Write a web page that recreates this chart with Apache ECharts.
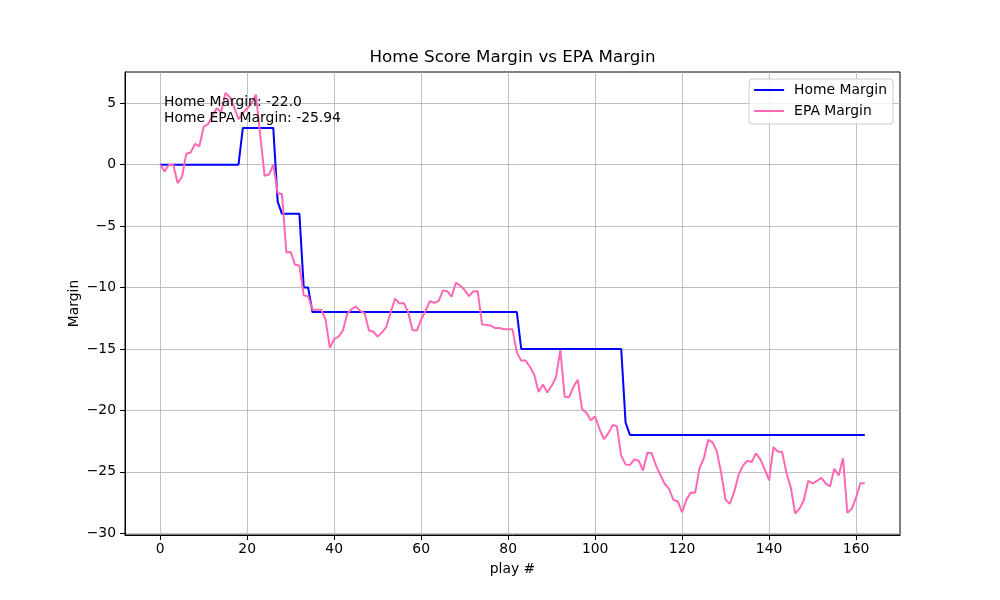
<!DOCTYPE html>
<html>
<head>
<meta charset="utf-8">
<title>Home Score Margin vs EPA Margin</title>
<script src="https://cdn.jsdelivr.net/npm/echarts@6/dist/echarts.min.js"></script>
<style>
  html, body { margin: 0; padding: 0; background: #fff; }
  #main { width: 1000px; height: 600px; }
</style>
</head>
<body>
<div id="main"></div>
<script>
// score margin of the home team after each play
const homeMargin = [
  0, 0, 0, 0, 0, 0, 0, 0, 0, 0, 0, 0, 0, 0, 0, 0, 0, 0, 0,
  3, 3, 3, 3, 3, 3, 3, 3,
  -3,
  -4, -4, -4, -4, -4,
  -10, -10,
  -12, -12, -12, -12, -12, -12, -12, -12, -12, -12, -12, -12, -12, -12, -12, -12,
  -12, -12, -12, -12, -12, -12, -12, -12, -12, -12, -12, -12, -12, -12, -12, -12,
  -12, -12, -12, -12, -12, -12, -12, -12, -12, -12, -12, -12, -12, -12, -12, -12,
  -15, -15, -15, -15, -15, -15, -15, -15, -15, -15, -15, -15,
  -15, -15, -15, -15, -15, -15, -15, -15, -15, -15, -15, -15,
  -21,
  -22, -22, -22, -22, -22, -22, -22, -22, -22, -22, -22,
  -22, -22, -22, -22, -22, -22, -22, -22, -22, -22, -22,
  -22, -22, -22, -22, -22, -22, -22, -22, -22, -22, -22,
  -22, -22, -22, -22, -22, -22, -22, -22, -22, -22, -22,
  -22, -22, -22, -22, -22, -22, -22, -22, -22, -22, -22
]

// cumulative EPA margin after each play
const epaMargin = [
  0, -0.55, 0, 0, -1.5, -1.0, 0.9, 1.0, 1.7, 1.5,
  3.1, 3.3, 4.0, 4.6, 4.3, 5.84, 5.5, 4.7, 3.7, 4.2,
  4.6, 5.0, 5.7, 2.4, -0.9, -0.8, 0, -2.3, -2.4, -7.15,
  -7.1, -8.15, -8.2, -10.65, -10.7, -11.8, -11.8, -11.8, -12.6, -14.9,
  -14.2, -14.0, -13.5, -12.15, -11.75, -11.55, -11.9, -12.1, -13.5, -13.6,
  -14.0, -13.65, -13.2, -12.0, -10.9, -11.3, -11.25, -12.0, -13.45, -13.5,
  -12.6, -11.9, -11.1, -11.25, -11.1, -10.25, -10.3, -10.75, -9.6, -9.85,
  -10.2, -10.7, -10.3, -10.3, -13.0, -13.05, -13.1, -13.3, -13.3, -13.4,
  -13.4, -13.4, -15.3, -15.95, -15.95, -16.45, -17.1, -18.5, -17.9, -18.55,
  -18.0, -17.3, -15.1, -18.9, -18.95, -18.1, -17.5, -19.9, -20.2, -20.8,
  -20.5, -21.5, -22.35, -21.9, -21.2, -21.3, -23.7, -24.4, -24.45, -24.0,
  -24.1, -24.9, -23.45, -23.5, -24.5, -25.25, -26.0, -26.4, -27.3, -27.4,
  -28.3, -27.25, -26.7, -26.7, -24.7, -23.9, -22.4, -22.6, -23.35, -25.15,
  -27.3, -27.6, -26.6, -25.25, -24.5, -24.1, -24.2, -23.5, -24.0, -24.8,
  -25.7, -23.0, -23.35, -23.4, -25.1, -26.3, -28.4, -28.0, -27.3, -25.75,
  -25.95, -25.75, -25.5, -25.95, -26.2, -24.75, -25.3, -23.9, -28.35, -28.0,
  -27.1, -25.94, -25.94
]

const xTicks = [0, 20, 40, 60, 80, 100, 120, 140, 160]
const yTicks = [-30, -25, -20, -15, -10, -5, 0, 5]

const font = 'DejaVu Sans'
const minus = v => String(v).replace('-', '\u2212')

var myChart = echarts.init(document.getElementById('main'))

myChart.setOption({
  animation: false,
  backgroundColor: '#fff',
  grid: {
    left: 125, right: 100, top: 72, bottom: 65,
    show: true, borderColor: '#000', borderWidth: 1
  },
  xAxis: {
    type: 'value',
    min: -8.1,
    max: 170.1,
    name: 'play #',
    nameLocation: 'middle',
    nameGap: 27,
    nameMoveOverlap: false,
    nameTextStyle: { fontFamily: font, fontSize: 13.9, color: '#000' },
    axisLine: { show: true, onZero: false, lineStyle: { color: '#000', width: 1 } },
    axisTick: { show: true, customValues: xTicks, length: 5, lineStyle: { color: '#000' } },
    axisLabel: { customValues: xTicks, margin: 7, fontFamily: font, fontSize: 13.9, color: '#000', formatter: minus },
    splitLine: { show: true, lineStyle: { color: '#b0b0b0', width: 0.8 } }
  },
  yAxis: {
    type: 'value',
    min: -30.15,
    max: 7.55,
    name: 'Margin',
    nameLocation: 'middle',
    nameGap: 44,
    nameMoveOverlap: false,
    nameTextStyle: { fontFamily: font, fontSize: 13.9, color: '#000' },
    axisLine: { show: true, onZero: false, lineStyle: { color: '#000', width: 1 } },
    axisTick: { show: true, customValues: yTicks, length: 5, lineStyle: { color: '#000' } },
    axisLabel: { customValues: yTicks, margin: 9, fontFamily: font, fontSize: 13.9, color: '#000', formatter: minus },
    splitLine: { show: true, lineStyle: { color: '#b0b0b0', width: 0.8 } }
  },
  legend: {
    orient: 'vertical',
    right: 107,
    top: 79,
    data: ['Home Margin', 'EPA Margin'],
    icon: 'rect',
    itemWidth: 30,
    itemHeight: 2,
    itemGap: 5,
    padding: [3, 6, 5, 5],
    borderColor: '#cccccc',
    borderWidth: 1,
    borderRadius: 3,
    backgroundColor: 'rgba(255,255,255,0.8)',
    textStyle: { fontFamily: font, fontSize: 13.9, color: '#000', lineHeight: 16, padding: [0, 0, 0, 5] }
  },
  graphic: [
    {
      type: 'text',
      x: 512.5,
      y: 58,
      style: {
        text: 'Home Score Margin vs EPA Margin',
        fontFamily: font, fontSize: 16.7, fill: '#000',
        align: 'center', verticalAlign: 'middle'
      }
    },
    {
      type: 'text',
      x: 164,
      y: 94,
      z: 10,
      style: {
        text: 'Home Margin: -22.0\nHome EPA Margin: -25.94',
        fontFamily: font, fontSize: 13.9, lineHeight: 16, fill: '#000',
        align: 'left', verticalAlign: 'top'
      }
    }
  ],
  series: [
    {
      name: 'Home Margin',
      type: 'line',
      data: homeMargin.map((v, i) => [i, v]),
      symbol: 'none',
      color: '#0000ff',
      lineStyle: { color: '#0000ff', width: 2 }
    },
    {
      name: 'EPA Margin',
      type: 'line',
      data: epaMargin.map((v, i) => [i, v]),
      symbol: 'none',
      color: '#ff69b4',
      lineStyle: { color: '#ff69b4', width: 2 }
    }
  ]
})
</script>
</body>
</html>
